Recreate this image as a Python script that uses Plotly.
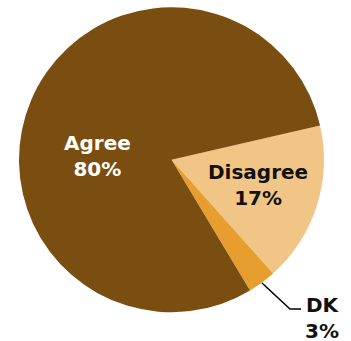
import plotly.graph_objects as go

labels = ["Disagree", "DK", "Agree"]
values = [17, 3, 80]
colors = ["#F1C585", "#E89E2F", "#7A4E10"]
label_text = ["Disagree<br>17%", "DK<br>3%", "Agree<br>80%"]

W, H = 351, 341

def px(x):
    return x / W

def py(y):
    return 1 - y / H

fig = go.Figure(go.Pie(
    labels=labels,
    values=values,
    marker=dict(colors=colors, line=dict(width=0)),
    sort=False,
    direction="clockwise",
    rotation=77,
    textinfo="none",
    hoverinfo="label+percent",
    showlegend=False,
    domain=dict(x=[px(19), px(324)], y=[py(312.5), py(7)]),
))

font = dict(family="DejaVu Sans, Verdana, sans-serif", size=20)
ann = [
    dict(text="<b>" + label_text[2] + "</b>", x=px(97), y=py(156), font=dict(color="white", **font)),
    dict(text="<b>" + label_text[0] + "</b>", x=px(258), y=py(185), font=dict(color="#111111", **font)),
    dict(text="<b>" + label_text[1] + "</b>", x=px(322), y=py(318), font=dict(color="#111111", **font)),
]
for a in ann:
    a.update(xref="paper", yref="paper", showarrow=False, xanchor="center", yanchor="middle")

fig.update_layout(
    width=W, height=H,
    margin=dict(l=0, r=0, t=0, b=0),
    paper_bgcolor="white",
    plot_bgcolor="white",
    annotations=ann,
    shapes=[dict(
        type="path", xref="paper", yref="paper",
        path=f"M {px(262)} {py(283)} L {px(290)} {py(309)} L {px(301)} {py(309)}",
        line=dict(color="black", width=1.5),
    )],
)

fig.write_html(
    "out.html",
    config={"displayModeBar": False},
    post_script="document.body.style.margin='0px';document.body.style.overflow='hidden';",
)
